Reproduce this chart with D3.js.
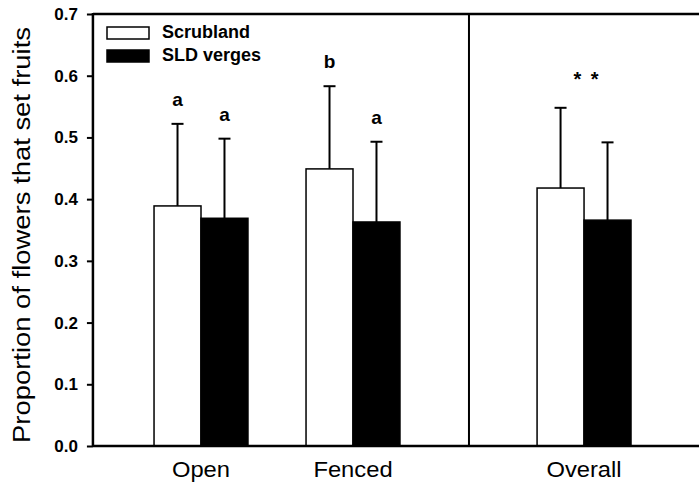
<!DOCTYPE html>
<html><head><meta charset="utf-8">
<script src="https://cdn.jsdelivr.net/npm/d3@7"></script>
<style>body{margin:0;background:#fff}svg{display:block}text{font-family:Arial,"Liberation Sans",sans-serif}</style>
</head><body>
<script>
const categories = ["Open", "Fenced", "Overall"];
const groupPos = [1, 2, 3.52];
const dividerPos = 2.763;
const seriesNames = ["Scrubland", "SLD verges"];
const scrubMean = [0.389, 0.449, 0.418];
const scrubErr = [0.133, 0.134, 0.130];
const sldMean = [0.369, 0.363, 0.366];
const sldErr = [0.129, 0.130, 0.126];
const scrubLetters = ["a", "b", ""];
const sldLetters = ["a", "a", ""];
const overallMark = "* *";
const yTicks = [0, 0.1, 0.2, 0.3, 0.4, 0.5, 0.6, 0.7];

const W = 699, H = 484;
const svg = d3.select("body").append("svg").attr("width", W).attr("height", H);
const y = d3.scaleLinear().domain([0, 0.7]).range([446, 14]);
const x = d3.scaleLinear().domain([1, 2]).range([201, 353]);
const barW = x(1.309) - x(1);
const left = x(0.289);

const rows = [];
categories.forEach((c, i) => {
  rows.push({x0: x(groupPos[i]) - barW, m: scrubMean[i], e: scrubErr[i], fill: "#fff", letter: scrubLetters[i]});
  rows.push({x0: x(groupPos[i]), m: sldMean[i], e: sldErr[i], fill: "#000", letter: sldLetters[i]});
});
const g = svg.append("g");
rows.forEach(r => {
  const cx = r.x0 + barW / 2;
  g.append("line").attr("x1", cx).attr("x2", cx).attr("y1", y(r.m)).attr("y2", y(r.m + r.e)).attr("stroke", "#000").attr("stroke-width", 2);
  g.append("line").attr("x1", cx - 6).attr("x2", cx + 6).attr("y1", y(r.m + r.e)).attr("y2", y(r.m + r.e)).attr("stroke", "#000").attr("stroke-width", 2);
  if (r.letter) g.append("text").attr("x", cx).attr("y", y(r.m + r.e) - 18).attr("text-anchor", "middle")
    .attr("font-size", 19).attr("font-weight", "bold").text(r.letter);
});
rows.forEach(r => {
  g.append("rect").attr("x", r.x0).attr("y", y(r.m)).attr("width", barW).attr("height", y(0) - y(r.m))
    .attr("fill", r.fill).attr("stroke", "#000").attr("stroke-width", 1.5);
});
g.append("text").attr("x", x(groupPos[2]) + 3).attr("y", 86).attr("text-anchor", "middle")
  .attr("font-size", 20).attr("font-weight", "bold").attr("letter-spacing", 2).text(overallMark);

const yAxis = d3.axisLeft(y).tickValues(yTicks).tickFormat(d3.format(".1f")).tickSize(6).tickPadding(9);
const ya = svg.append("g").attr("transform", `translate(${left},0)`).call(yAxis);
ya.select(".domain").remove();
ya.selectAll(".tick line").attr("stroke", "#000").attr("stroke-width", 2);
ya.selectAll(".tick text").attr("font-size", 17).attr("font-weight", "bold").attr("fill", "#000")
  .attr("font-family", "Arial, 'Liberation Sans', sans-serif");

svg.append("line").attr("x1", left).attr("x2", left).attr("y1", y(0.7) - 1).attr("y2", y(0) + 1).attr("stroke", "#000").attr("stroke-width", 2.5);
svg.append("line").attr("x1", left).attr("x2", W).attr("y1", y(0.7)).attr("y2", y(0.7)).attr("stroke", "#000").attr("stroke-width", 2.5);
svg.append("line").attr("x1", left).attr("x2", W).attr("y1", y(0)).attr("y2", y(0)).attr("stroke", "#000").attr("stroke-width", 2.5);
svg.append("line").attr("x1", x(dividerPos)).attr("x2", x(dividerPos)).attr("y1", y(0.7)).attr("y2", y(0)).attr("stroke", "#000").attr("stroke-width", 2);

categories.forEach((c, i) => {
  svg.append("text").attr("x", x(groupPos[i])).attr("y", 477).attr("text-anchor", "middle")
    .attr("font-size", 22).attr("transform", `translate(${x(groupPos[i])},0) scale(1.08,1) translate(${-x(groupPos[i])},0)`).text(c);
});

svg.append("text").attr("transform", `translate(30,235) rotate(-90)`).attr("text-anchor", "middle")
  .attr("font-size", 23).attr("textLength", 416).attr("lengthAdjust", "spacingAndGlyphs")
  .text("Proportion of flowers that set fruits");

const legFills = ["#fff", "#000"];
seriesNames.forEach((s, i) => {
  svg.append("rect").attr("x", 107).attr("y", 27 + i * 23).attr("width", 42).attr("height", 12)
    .attr("fill", legFills[i]).attr("stroke", "#000").attr("stroke-width", 1.5);
  svg.append("text").attr("x", 162).attr("y", 38 + i * 23).attr("font-size", 18).attr("font-weight", "bold").text(s);
});
</script>
</body></html>
